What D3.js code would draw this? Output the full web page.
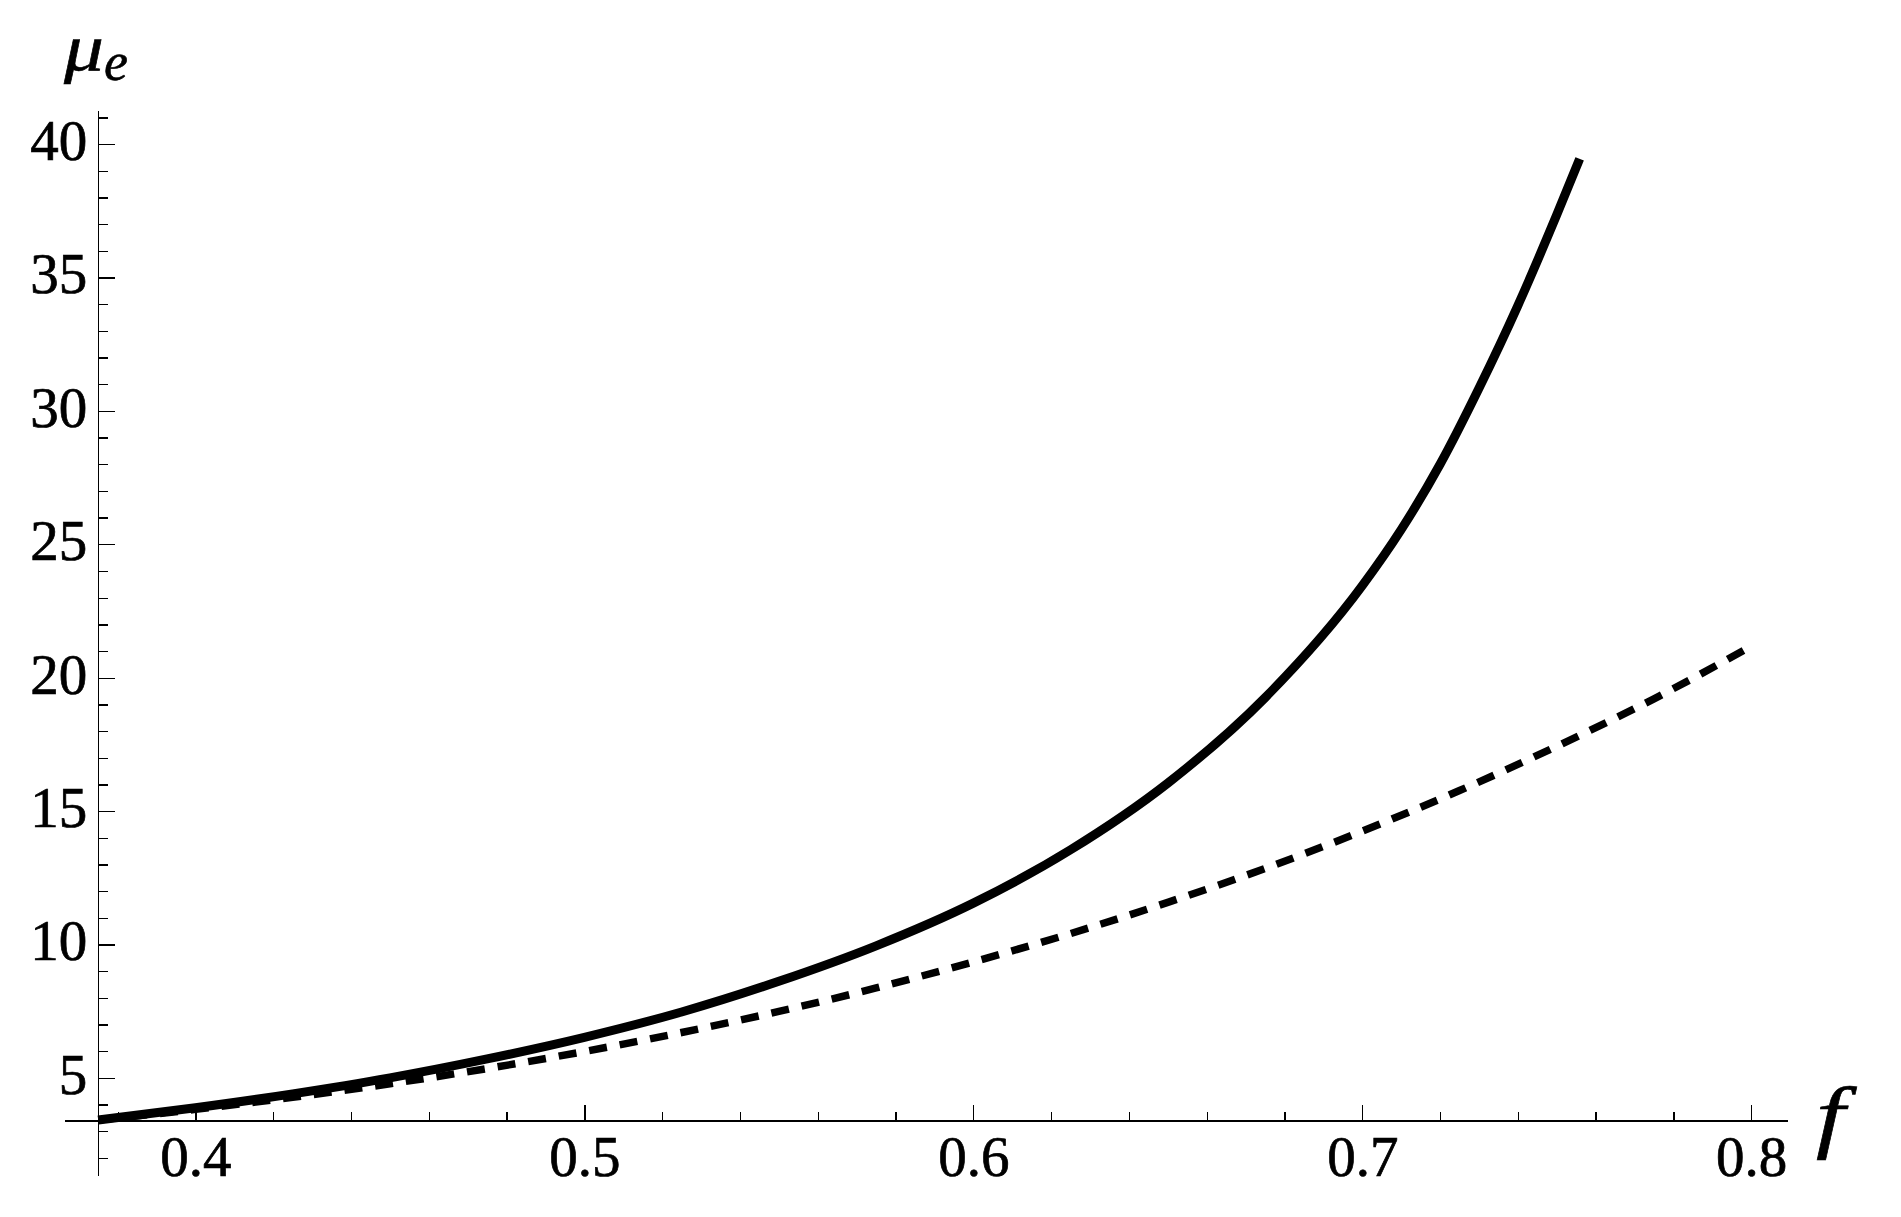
<!DOCTYPE html>
<html lang="en">
<head>
  <meta charset="UTF-8">
  <title>mu_e versus f</title>
  <style>
    html, body {
      margin: 0;
      background: #fff;
    }
    text {
      font-family: 'Liberation Serif', 'Times New Roman', serif;
      fill: #000;
    }
    .axis path, .axis line {
      stroke: #000;
      stroke-width: 1.3px;
      shape-rendering: crispEdges;
    }
    .axis text {
      font-family: 'Liberation Serif', 'Times New Roman', serif;
      font-size: 57px;
      stroke: #000;
      stroke-width: 0.7px;
    }
    .label {
      stroke: #000;
      stroke-width: 0.6px;
    }
    .line {
      fill: none;
      stroke: #000;
    }
  </style>
</head>
<body>
<svg width="1901" height="1217" viewBox="0 0 1901 1217"></svg>
<script src="https://d3js.org/d3.v7.min.js"></script>
<script>

// values
const fSolid  = [0.375, 0.400, 0.425, 0.450, 0.475, 0.500, 0.525, 0.550, 0.575, 0.600, 0.625, 0.650, 0.675, 0.700, 0.710, 0.720, 0.730, 0.740, 0.750, 0.7559];
const muSolid = [3.42, 3.88, 4.40, 5.00, 5.71, 6.52, 7.47, 8.62, 9.95, 11.55, 13.55, 16.05, 19.25, 23.45, 25.55, 28.00, 30.85, 33.95, 37.35, 39.45];

const fDashed  = [0.375, 0.400, 0.425, 0.450, 0.475, 0.500, 0.525, 0.550, 0.575, 0.600, 0.625, 0.650, 0.675, 0.700, 0.725, 0.750, 0.775, 0.800];
const muDashed = [3.42, 3.82, 4.27, 4.78, 5.35, 5.99, 6.70, 7.49, 8.37, 9.35, 10.41, 11.58, 12.85, 14.25, 15.77, 17.43, 19.21, 21.18];

const xMajor = [0.4, 0.5, 0.6, 0.7, 0.8];
const xMinor = d3.range(0.38, 0.801, 0.02);
const yMajor = [5, 10, 15, 20, 25, 30, 35, 40];
const yMinor = d3.range(2, 42, 1);

// plot range and the point where the axes cross
const xRange = [0.3662, 0.8092],
    yRange = [1.36, 41.28],
    origin = {f: 0.375, mu: 3.40};

const svg = d3.select("svg"),
    box = {left: 64, right: 1787, top: 110, bottom: 1175};

const x = d3.scaleLinear().domain(xRange).range([box.left, box.right]),
    y = d3.scaleLinear().domain(yRange).range([box.bottom, box.top]);

const solid = fSolid.map((f, i) => ({f: f, mu: muSolid[i]})),
    dashed = fDashed.map((f, i) => ({f: f, mu: muDashed[i]}));

const line = d3.line()
    .curve(d3.curveMonotoneX)
    .x(d => x(d.f))
    .y(d => y(d.mu));

// x axis, ticks pointing up
const gx = svg.append("g")
    .attr("class", "axis axis--x")
    .attr("transform", "translate(0," + y(origin.mu) + ")");

gx.call(d3.axisBottom(x).tickValues(xMinor).tickSize(-9).tickSizeOuter(0).tickFormat(""));
gx.append("g")
    .call(d3.axisBottom(x).tickValues(xMajor).tickSize(-16).tickSizeOuter(0).tickPadding(15)
        .tickFormat(d3.format(".1f")))
    .call(g => g.select(".domain").remove());

// y axis, ticks pointing right
const gy = svg.append("g")
    .attr("class", "axis axis--y")
    .attr("transform", "translate(" + x(origin.f) + ",0)");

gy.call(d3.axisLeft(y).tickValues(yMinor).tickSize(-10).tickSizeOuter(0).tickFormat(""));
gy.append("g")
    .call(d3.axisLeft(y).tickValues(yMajor).tickSize(-17).tickSizeOuter(0).tickPadding(11))
    .call(g => g.select(".domain").remove())
    .selectAll("text").attr("dy", "0.27em");

svg.selectAll(".axis").attr("font-family", null).attr("font-size", null);
svg.selectAll(".axis g").attr("font-family", null).attr("font-size", null);

// curves
svg.append("path")
    .datum(dashed)
    .attr("class", "line")
    .attr("stroke-width", 7.5)
    .attr("stroke-dasharray", "18,13")
    .attr("d", line);

svg.append("path")
    .datum(solid)
    .attr("class", "line")
    .attr("stroke-width", 9)
    .attr("d", line);

// axis labels
svg.append("text")
    .attr("class", "label")
    .attr("transform", "translate(64,70) scale(1.2,1)")
    .attr("font-style", "italic")
    .attr("font-size", 66)
    .text("μ");

svg.append("text")
    .attr("class", "label")
    .attr("x", 104)
    .attr("y", 80)
    .attr("font-style", "italic")
    .attr("font-size", 54)
    .text("e");

svg.append("text")
    .attr("class", "label")
    .attr("transform", "translate(1816," + (y(origin.mu) + 22) + ") scale(1.3,1)")
    .attr("font-style", "italic")
    .attr("font-size", 80)
    .text("f");

</script>
</body>
</html>
